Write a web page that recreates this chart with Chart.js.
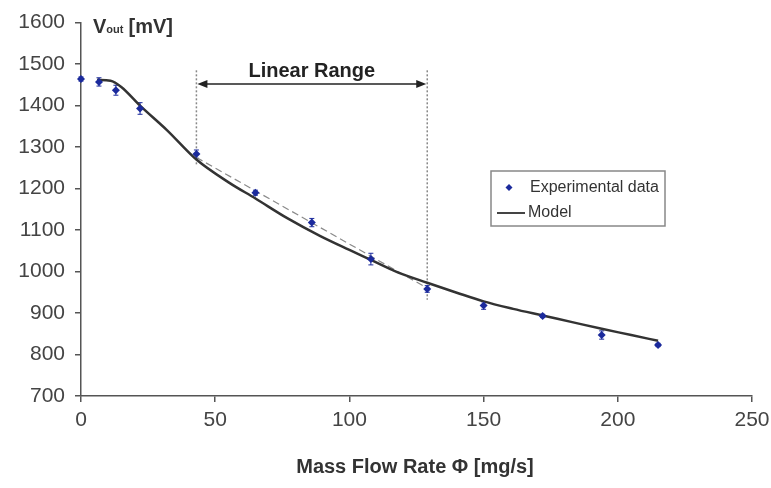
<!DOCTYPE html>
<html>
<head>
<meta charset="UTF-8">
<title>Vout vs Mass Flow Rate</title>
<script src="https://cdn.jsdelivr.net/npm/chart.js"></script>
<style>
  body { margin: 0; background: #fff; }
  #wrap { width: 771px; height: 488px; }
</style>
</head>
<body>
<div id="wrap"><canvas id="myChart"></canvas></div>
<script>
// experimental points (mg/s, mV) and their error bars
let expX = [0, 6.7, 13, 22, 43, 65, 86, 108, 129, 150, 172, 194, 215];
let expY = [1464, 1457, 1437, 1393, 1283, 1190, 1118, 1030, 958, 918, 893, 847, 823];
let expErr = [5, 10, 12, 14, 10, 6, 10, 14, 8, 9, 4, 10, 4];

// model curve
let modelX = [6, 11, 15, 22, 32, 43, 55, 65, 77, 89, 100, 108, 118, 129, 140, 150, 161, 172, 183, 194, 205, 215];
let modelY = [1462, 1460, 1445, 1400, 1341, 1270, 1215, 1176, 1128, 1086, 1052, 1028, 998, 973, 949, 928, 910, 894, 878, 862, 847, 833];

// linear fit inside the linear range
let fitX = [43, 129];
let fitY = [1275, 960];
let rangeTop = 1485;
let rangeBottom = [1255, 932];
let arrowY = 1452;

let xTicks = [0, 50, 100, 150, 200, 250];
let yTicks = [700, 800, 900, 1000, 1100, 1200, 1300, 1400, 1500, 1600];

const pts = (xs, ys) => xs.map((x, i) => ({x: x, y: ys[i]}));
const blue = '#1b2a9c';
const font = '"Liberation Sans", Arial, sans-serif';

const extras = {
    id: 'extras',
    beforeDatasetsDraw(chart) {
        const ctx = chart.ctx, xs = chart.scales.x, ys = chart.scales.y;
        ctx.save();
        // vertical dotted range limits
        ctx.strokeStyle = '#888';
        ctx.lineWidth = 1.5;
        ctx.setLineDash([2, 2]);
        fitX.forEach((x, i) => {
            ctx.beginPath();
            ctx.moveTo(xs.getPixelForValue(x), ys.getPixelForValue(rangeTop));
            ctx.lineTo(xs.getPixelForValue(x), ys.getPixelForValue(rangeBottom[i]));
            ctx.stroke();
        });
        ctx.setLineDash([]);
        // error bars
        ctx.strokeStyle = blue;
        ctx.lineWidth = 1;
        expX.forEach((x, i) => {
            const px = xs.getPixelForValue(x);
            const y1 = ys.getPixelForValue(expY[i] - expErr[i]);
            const y2 = ys.getPixelForValue(expY[i] + expErr[i]);
            ctx.beginPath();
            ctx.moveTo(px, y1); ctx.lineTo(px, y2);
            ctx.moveTo(px - 2.5, y1); ctx.lineTo(px + 2.5, y1);
            ctx.moveTo(px - 2.5, y2); ctx.lineTo(px + 2.5, y2);
            ctx.stroke();
        });
        ctx.restore();
    },
    afterDraw(chart) {
        const ctx = chart.ctx, xs = chart.scales.x, ys = chart.scales.y;
        ctx.save();
        // arrow for linear range
        const ax1 = xs.getPixelForValue(fitX[0]), ax2 = xs.getPixelForValue(fitX[1]);
        const ay = ys.getPixelForValue(arrowY);
        ctx.strokeStyle = '#222';
        ctx.fillStyle = '#222';
        ctx.lineWidth = 1.5;
        ctx.beginPath();
        ctx.moveTo(ax1 + 4, ay); ctx.lineTo(ax2 - 4, ay);
        ctx.stroke();
        ctx.beginPath();
        ctx.moveTo(ax1 + 1, ay); ctx.lineTo(ax1 + 11, ay - 4); ctx.lineTo(ax1 + 11, ay + 4); ctx.closePath();
        ctx.moveTo(ax2 - 1, ay); ctx.lineTo(ax2 - 11, ay - 4); ctx.lineTo(ax2 - 11, ay + 4); ctx.closePath();
        ctx.fill();
        ctx.font = 'bold 20px ' + font;
        ctx.textAlign = 'center';
        ctx.textBaseline = 'middle';
        ctx.fillText('Linear Range', (ax1 + ax2) / 2, ay - 13);

        // y axis title with subscript
        ctx.textAlign = 'left';
        ctx.textBaseline = 'alphabetic';
        ctx.fillStyle = '#333';
        let tx = 93, ty = 33;
        ctx.font = 'bold 20px ' + font;
        ctx.fillText('V', tx, ty);
        tx += ctx.measureText('V').width;
        ctx.font = 'bold 11px ' + font;
        ctx.fillText('out', tx, ty);
        tx += ctx.measureText('out ').width + 2;
        ctx.font = 'bold 20px ' + font;
        ctx.fillText('[mV]', tx, ty);

        // x axis title
        ctx.textAlign = 'center';
        ctx.textBaseline = 'middle';
        ctx.font = 'bold 20px ' + font;
        ctx.fillText('Mass Flow Rate \u03A6 [mg/s]', 415, 467);

        // legend box
        const lx = 491, ly = 171, lw = 174, lh = 55;
        ctx.strokeStyle = '#888';
        ctx.lineWidth = 1.5;
        ctx.strokeRect(lx, ly, lw, lh);
        ctx.fillStyle = blue;
        ctx.beginPath();
        ctx.moveTo(509, 184); ctx.lineTo(512.5, 187.5); ctx.lineTo(509, 191); ctx.lineTo(505.5, 187.5); ctx.closePath();
        ctx.fill();
        ctx.strokeStyle = '#444';
        ctx.lineWidth = 2;
        ctx.beginPath();
        ctx.moveTo(497, 213); ctx.lineTo(525, 213);
        ctx.stroke();
        ctx.fillStyle = '#333';
        ctx.font = '16px ' + font;
        ctx.textAlign = 'left';
        ctx.fillText('Experimental data', 530, 188);
        ctx.fillText('Model', 528, 213);
        ctx.restore();
    }
};

const config = {
    type: 'scatter',
    data: {
        datasets: [
            {
                label: 'Experimental data',
                data: pts(expX, expY),
                pointStyle: 'rectRot',
                pointRadius: 4,
                backgroundColor: blue,
                borderColor: blue,
                borderWidth: 0,
                showLine: false,
                clip: false,
                order: 0
            },
            {
                label: 'Model',
                data: pts(modelX, modelY),
                showLine: true,
                borderColor: '#333',
                borderWidth: 2.5,
                pointRadius: 0,
                cubicInterpolationMode: 'monotone',
                order: 1
            },
            {
                label: 'fit',
                data: pts(fitX, fitY),
                showLine: true,
                borderColor: '#8a8a8a',
                borderWidth: 1.2,
                borderDash: [7, 4],
                pointRadius: 0,
                order: 2
            }
        ]
    },
    options: {
        responsive: true,
        maintainAspectRatio: false,
        animation: false,
        layout: { padding: { top: 22, right: 19, left: 0, bottom: 0 } },
        plugins: {
            legend: { display: false },
            tooltip: { enabled: false }
        },
        scales: {
            x: {
                type: 'linear',
                min: 0, max: 250,
                afterBuildTicks: (s) => { s.ticks = xTicks.map(v => ({value: v})); },
                afterFit: (s) => { s.height = 92; s.paddingRight = 0; s.paddingLeft = 0; },
                grid: { drawOnChartArea: false, drawTicks: true, tickLength: 6, color: '#555', lineWidth: 1.5 },
                border: { display: true, color: '#555', width: 1.5 },
                ticks: { font: { family: font, size: 21 }, color: '#444', padding: 6, maxRotation: 0,
                         callback: (v) => String(v) }
            },
            y: {
                type: 'linear',
                min: 700, max: 1600,
                afterBuildTicks: (s) => { s.ticks = yTicks.map(v => ({value: v})); },
                afterFit: (s) => { s.width = 81; },
                grid: { drawOnChartArea: false, drawTicks: true, tickLength: 6, color: '#555', lineWidth: 1.5 },
                border: { display: true, color: '#555', width: 1.5 },
                ticks: { font: { family: font, size: 21 }, color: '#444', padding: 10,
                         callback: (v) => String(v) }
            }
        }
    },
    plugins: [extras]
};

const chart = new Chart(document.getElementById('myChart'), config);
</script>
</body>
</html>
